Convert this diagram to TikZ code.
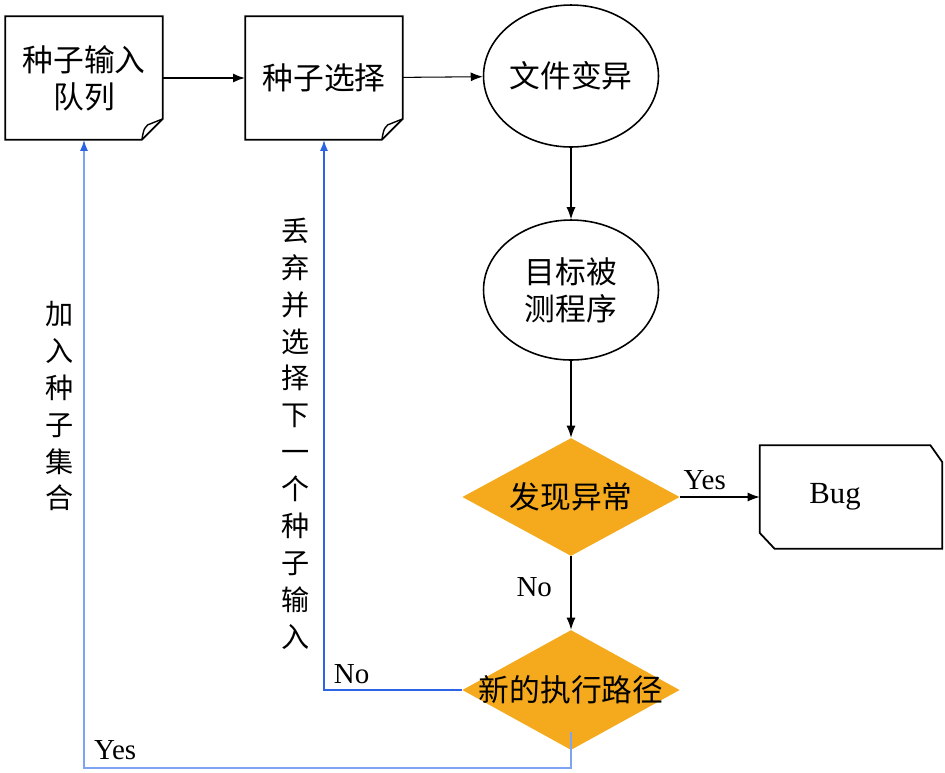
\documentclass[tikz,border=0pt]{standalone}
\usepackage{fontspec}
\setmainfont{Liberation Serif}
\newfontfamily\cjk{Noto Sans CJK SC}
\usetikzlibrary{shapes.geometric,arrows.meta,calc}
\definecolor{fuzzOrange}{RGB}{245,170,30}
\definecolor{fuzzBlue}{RGB}{45,100,230}
\definecolor{fuzzLightBlue}{RGB}{125,163,242}
\newcommand\hzfont{\cjk\fontsize{17.5}{21}\selectfont}
\newcommand\vtfont{\cjk\fontsize{16}{21}\selectfont}
\newcommand\enfont{\fontsize{16.5}{19}\selectfont}
\tikzset{
  docbox/.style={
    rectangle, inner sep=0pt,
    minimum width=3.14cm, minimum height=2.46cm,
    align=center, font=\hzfont,
    append after command={\pgfextra{
      \draw[line width=1pt] (\tikzlastnode.north west) -- (\tikzlastnode.north east)
        -- ([yshift=0.42cm]\tikzlastnode.south east)
        -- ([xshift=-0.42cm]\tikzlastnode.south east)
        -- (\tikzlastnode.south west) -- cycle;
      \draw[line width=0.8pt] ([yshift=0.42cm]\tikzlastnode.south east)
        -- ([xshift=-0.3cm,yshift=0.3cm]\tikzlastnode.south east)
        .. controls ([xshift=-0.38cm,yshift=0.22cm]\tikzlastnode.south east)
        .. ([xshift=-0.42cm]\tikzlastnode.south east);
    }}
  },
  bugbox/.style={
    rectangle, inner sep=0pt,
    minimum width=3.64cm, minimum height=2.06cm,
    font=\fontsize{17.5}{20}\selectfont,
    append after command={\pgfextra{
      \draw[line width=1pt] (\tikzlastnode.north west)
        -- ([xshift=-0.24cm]\tikzlastnode.north east)
        -- ([yshift=-0.34cm]\tikzlastnode.north east)
        -- (\tikzlastnode.south east)
        -- ([xshift=0.3cm]\tikzlastnode.south west)
        -- ([yshift=0.32cm]\tikzlastnode.south west) -- cycle;
    }}
  },
  stepoval/.style={
    ellipse, draw, line width=0.9pt, inner sep=0pt,
    minimum width=3.5cm, minimum height=2.84cm,
    align=center, font=\hzfont
  },
  check/.style={
    diamond, aspect=1.84, fill=fuzzOrange, inner sep=0pt,
    minimum width=4.35cm, minimum height=2.36cm,
    align=center, font=\hzfont
  },
  lbl/.style={font=\enfont, inner sep=2pt},
  vlbl/.style={font=\vtfont, inner sep=0pt, align=center},
  flowarr/.style={-{Latex[length=0.24cm,width=0.18cm]}, line width=0.6pt},
  backline/.style={draw=#1, line width=0.9pt,
    -{Latex[length=0.22cm,width=0.16cm,color=fuzzBlue]}},
}
\begin{document}
\begin{tikzpicture}[x=0.02cm, y=-0.02cm]
  \useasboundingbox (0,0) rectangle (945,772);

  \node[docbox]   (queue)   at (84,78)    {种子输入\\队列};
  \node[docbox]   (select)  at (324,78)   {种子选择};
  \node[stepoval] (mutate)  at (571,76)   {文件变异};
  \node[stepoval, minimum height=2.8cm] (target) at (571,290) {目标被\\测程序};
  \node[check]    (spot)    at (571,497)  {发现异常};
  \node[check, aspect=1.82, inner xsep=-0.4cm, minimum height=2.4cm] (newpath) at (571,690) {新的执行路径};
  \node[bugbox]   (bug)     at (851,497)  {\hspace*{-0.64cm}Bug};
  \coordinate (yesbase) at (571,768);

  \draw[flowarr, line width=1.1pt] (queue) -- (select);
  \draw[flowarr] (select) -- (mutate);
  \draw[flowarr] (mutate) -- (target);
  \draw[flowarr] (target) -- (spot);
  \draw[flowarr] (spot) -- node[lbl, above=2pt, pos=0.31]{Yes} (bug);
  \draw[flowarr] (spot) -- node[lbl, left=0.3cm, pos=0.42]{No} (newpath);

  % feedback paths
  \draw[backline=fuzzBlue] (newpath.west) -|
    node[lbl, above=1pt, pos=0.4]{No}
    node[vlbl, left=0.28cm, pos=0.733]{丢\\弃\\并\\选\\择\\下\\一\\个\\种\\子\\输\\入}
    (select.south);
  \draw[backline=fuzzLightBlue] ([yshift=0.36cm]newpath.south) -- (yesbase) -|
    node[lbl, above=2pt, pos=0.468]{Yes}
    node[vlbl, left=0.2cm, pos=0.788]{加\\入\\种\\子\\集\\合}
    (queue.south);
\end{tikzpicture}
\end{document}
